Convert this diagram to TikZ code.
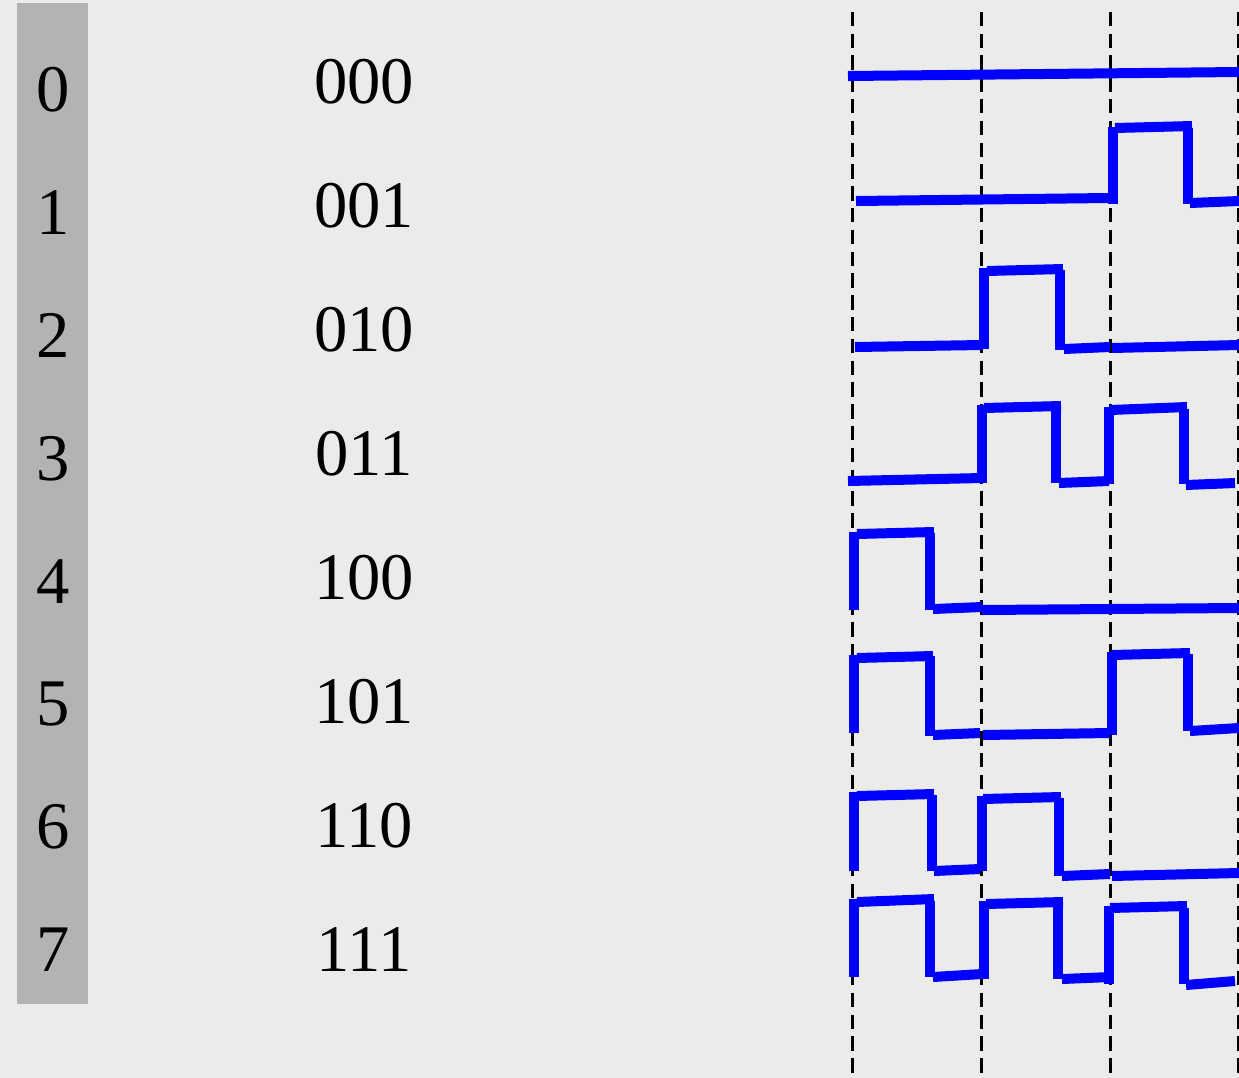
\documentclass[tikz,border=0pt]{standalone}
\usepackage{fontspec}
\setmainfont{Liberation Serif}
\usepackage{xcolor}
\usetikzlibrary{positioning}
\definecolor{bggray}{HTML}{EBEBEB}
\definecolor{bargray}{HTML}{B3B3B3}
\definecolor{waveblue}{HTML}{0000FF}

\begin{document}
\begin{tikzpicture}[x=0.5pt,y=-0.5pt,
  label/.style={font=\fontsize{33.3}{36}\selectfont, inner sep=0pt},
  wave/.style={line width=5pt, waveblue, line cap=butt},
  clockline/.style={line width=1.5pt, dash pattern=on 7.2pt off 3.7pt}]
  % Background and index bar
  \fill[bggray] (0,0) rectangle (1239,1078);
  \useasboundingbox (0,0) rectangle (1239,1078);
  \fill[bargray] (17,3) rectangle (88,1004);

  % Labels
  \foreach \code [count=\i from 0] in {000,001,010,011,100,101,110,111} {
    \node[label] (num\i) at (53,90+122.86*\i) {\i};
    \node[label] (code\i) at (364,82+124*\i) {\code};
  }

  % Dashed clock lines
  \foreach \x in {852.5,981.5,1110.5,1238}
    \draw[clockline] (\x,11.7) -- (\x,1078);

  % Row 0
  \draw[wave] (848,76) -- (1239,72);

  % Row 1
  \draw[wave] (856,201) -- (1108,198);
  \draw[wave] (1112.5,127) -- (1112.5,204);
  \draw[wave] (1115,128) -- (1192,126);
  \draw[wave] (1187.5,128) -- (1187.5,204);
  \draw[wave] (1190,203) -- (1239,201);

  % Row 2
  \draw[wave] (855,347) -- (982,345);
  \draw[wave] (984,268) -- (984,349);
  \draw[wave] (987,271) -- (1063,269);
  \draw[wave] (1060,270) -- (1060,350);
  \draw[wave] (1064,349) -- (1110,347);
  \draw[wave] (1112,348) -- (1239,345);

  % Row 3
  \draw[wave] (848,481) -- (982,478);
  \draw[wave] (982,405) -- (982,483);
  \draw[wave] (984,408) -- (1061,406);
  \draw[wave] (1056,407) -- (1056,483);
  \draw[wave] (1059,483) -- (1109,481);
  \draw[wave] (1109,407) -- (1109,484);
  \draw[wave] (1110,410) -- (1187,407);
  \draw[wave] (1184,409) -- (1184,484);
  \draw[wave] (1186,485) -- (1235,483);

  % Row 4
  \draw[wave] (854,532) -- (854,610);
  \draw[wave] (857,534) -- (934,532);
  \draw[wave] (930,533) -- (930,610);
  \draw[wave] (933,609) -- (982,607);
  \draw[wave] (982,610) -- (1239,608);

  % Row 5
  \draw[wave] (854,655) -- (854,733);
  \draw[wave] (857,658) -- (933,656);
  \draw[wave] (930,656) -- (930,736);
  \draw[wave] (933,735) -- (980,733);
  \draw[wave] (983,735) -- (1110,733);
  \draw[wave] (1112,652) -- (1112,735);
  \draw[wave] (1112,655) -- (1190,653);
  \draw[wave] (1188,654) -- (1188,731);
  \draw[wave] (1190,731) -- (1239,728);

  % Row 6
  \draw[wave] (854,792) -- (854,871);
  \draw[wave] (857,796) -- (934,794);
  \draw[wave] (932,795) -- (932,871);
  \draw[wave] (934,871) -- (980,869);
  \draw[wave] (982,796) -- (982,871);
  \draw[wave] (983,799) -- (1061,797);
  \draw[wave] (1059,798) -- (1059,876);
  \draw[wave] (1062,876) -- (1110,874);
  \draw[wave] (1112,876) -- (1239,873);

  % Row 7
  \draw[wave] (854,899) -- (854,977);
  \draw[wave] (857,902) -- (934,899);
  \draw[wave] (930,901) -- (930,977);
  \draw[wave] (933,977) -- (982,974);
  \draw[wave] (984,901) -- (984,979);
  \draw[wave] (986,904) -- (1063,902);
  \draw[wave] (1058,904) -- (1058,979);
  \draw[wave] (1062,979) -- (1111,977);
  \draw[wave] (1109,906) -- (1109,984);
  \draw[wave] (1110,908) -- (1187,906);
  \draw[wave] (1184,908) -- (1184,984);
  \draw[wave] (1186,985) -- (1235,981);
\end{tikzpicture}
\end{document}
